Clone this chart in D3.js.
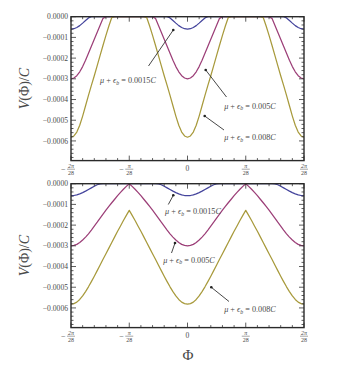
<!DOCTYPE html>
<html><head><meta charset="utf-8">
<script src="https://cdn.jsdelivr.net/npm/d3@7"></script>
<style>
html,body{margin:0;padding:0;background:#fff;}
svg{display:block;}
text{font-family:"Liberation Serif","DejaVu Serif",serif;}
</style></head>
<body>
<svg id="chart" width="348" height="379"></svg>
<script>
// Φ sample grid in units of π/28, values V(Φ)/C in units of 1e-4
const phiUnits = d3.range(81).map(i => -2 + i * 0.05);
const valueUnit = 1e-4;

const topBlue = [
 -0.60,-0.58,-0.52,-0.43,-0.31,-0.18,-0.06,0,0,0,0,0,0,0,0,0,0,0,0,0,0,
 0,0,0,0,0,0,0,0,0,0,0,0,0,-0.06,-0.18,-0.31,-0.43,-0.52,-0.58,-0.60,
 -0.58,-0.52,-0.43,-0.31,-0.18,-0.06,0,0,0,0,0,0,0,0,0,0,0,0,0,0,
 0,0,0,0,0,0,0,0,0,0,0,0,0,-0.06,-0.18,-0.31,-0.43,-0.52,-0.58,-0.60];
const topMagenta = [
 -3.00,-2.96,-2.85,-2.66,-2.41,-2.10,-1.77,-1.43,-1.09,-0.75,-0.41,-0.08,0,0,0,0,0,0,0,0,0,
 0,0,0,0,0,0,0,0,-0.08,-0.41,-0.75,-1.09,-1.43,-1.77,-2.10,-2.41,-2.66,-2.85,-2.96,-3.00,
 -2.96,-2.85,-2.66,-2.41,-2.10,-1.77,-1.43,-1.09,-0.75,-0.41,-0.08,0,0,0,0,0,0,0,0,0,
 0,0,0,0,0,0,0,0,-0.08,-0.41,-0.75,-1.09,-1.43,-1.77,-2.10,-2.41,-2.66,-2.85,-2.96,-3.00];
const topYellow = [
 -5.82,-5.76,-5.57,-5.24,-4.80,-4.30,-3.80,-3.32,-2.85,-2.36,-1.87,-1.38,-0.90,-0.45,-0.04,0,0,0,0,0,0,
 0,0,0,0,0,-0.04,-0.45,-0.90,-1.38,-1.87,-2.36,-2.85,-3.32,-3.80,-4.30,-4.80,-5.24,-5.57,-5.76,-5.82,
 -5.76,-5.57,-5.24,-4.80,-4.30,-3.80,-3.32,-2.85,-2.36,-1.87,-1.38,-0.90,-0.45,-0.04,0,0,0,0,0,0,
 0,0,0,0,0,-0.04,-0.45,-0.90,-1.38,-1.87,-2.36,-2.85,-3.32,-3.80,-4.30,-4.80,-5.24,-5.57,-5.76,-5.82];

const bottomBlue = [
 -0.58,-0.57,-0.54,-0.49,-0.43,-0.36,-0.28,-0.20,-0.12,-0.05,-0.01,0,0,0,0,0,0,0,0,0,0,
 0,0,0,0,0,0,0,0,0,-0.01,-0.05,-0.12,-0.20,-0.28,-0.36,-0.43,-0.49,-0.54,-0.57,-0.58,
 -0.57,-0.54,-0.49,-0.43,-0.36,-0.28,-0.20,-0.12,-0.05,-0.01,0,0,0,0,0,0,0,0,0,0,
 0,0,0,0,0,0,0,0,0,-0.01,-0.05,-0.12,-0.20,-0.28,-0.36,-0.43,-0.49,-0.54,-0.57,-0.58];
const bottomMagenta = [
 -3.00,-2.98,-2.93,-2.84,-2.72,-2.58,-2.42,-2.24,-2.05,-1.86,-1.66,-1.47,-1.28,-1.10,-0.92,-0.75,-0.58,-0.42,-0.27,-0.13,0,
 -0.13,-0.27,-0.42,-0.58,-0.75,-0.92,-1.10,-1.28,-1.47,-1.66,-1.86,-2.05,-2.24,-2.42,-2.58,-2.72,-2.84,-2.93,-2.98,-3.00,
 -2.98,-2.93,-2.84,-2.72,-2.58,-2.42,-2.24,-2.05,-1.86,-1.66,-1.47,-1.28,-1.10,-0.92,-0.75,-0.58,-0.42,-0.27,-0.13,0,
 -0.13,-0.27,-0.42,-0.58,-0.75,-0.92,-1.10,-1.28,-1.47,-1.66,-1.86,-2.05,-2.24,-2.42,-2.58,-2.72,-2.84,-2.93,-2.98,-3.00];
const bottomYellow = [
 -5.82,-5.79,-5.72,-5.59,-5.42,-5.21,-4.98,-4.73,-4.47,-4.20,-3.93,-3.65,-3.38,-3.11,-2.84,-2.57,-2.30,-2.04,-1.78,-1.53,-1.29,
 -1.53,-1.78,-2.04,-2.30,-2.57,-2.84,-3.11,-3.38,-3.65,-3.93,-4.20,-4.47,-4.73,-4.98,-5.21,-5.42,-5.59,-5.72,-5.79,-5.82,
 -5.79,-5.72,-5.59,-5.42,-5.21,-4.98,-4.73,-4.47,-4.20,-3.93,-3.65,-3.38,-3.11,-2.84,-2.57,-2.30,-2.04,-1.78,-1.53,-1.29,
 -1.53,-1.78,-2.04,-2.30,-2.57,-2.84,-3.11,-3.38,-3.65,-3.93,-4.20,-4.47,-4.73,-4.98,-5.21,-5.42,-5.59,-5.72,-5.79,-5.82];

const yTickValues = [0, -0.0001, -0.0002, -0.0003, -0.0004, -0.0005, -0.0006];
const yTickLabels = ["0.0000", "\u22120.0001", "\u22120.0002", "\u22120.0003", "\u22120.0004", "\u22120.0005", "\u22120.0006"];
const xTickUnits = [-2, -1, 0, 1, 2];
const xTickLabels = [["\u2212", "2\u03c0", "28"], ["\u2212", "\u03c0", "28"], ["", "0", ""], ["", "\u03c0", "28"], ["", "2\u03c0", "28"]];
const seriesColors = ["#44449c", "#9c3f78", "#a89a3c"];
const annLabels = ["0.0015", "0.005", "0.008"];

const svg = d3.select("#chart");
const textGray = "#4a4a4a";

const x = d3.scaleLinear().domain([-2, 2]).range([71, 304]);

function drawPanel(top, series, annotations) {
  const y = d3.scaleLinear().domain([-0.000695, 0]).range([top + 143.9, top]);
  const g = svg.append("g");
  const clipId = "clip" + Math.round(top);
  g.append("clipPath").attr("id", clipId).append("rect")
    .attr("x", x.range()[0]).attr("y", top - 1)
    .attr("width", x.range()[1] - x.range()[0]).attr("height", 146);
  const line = d3.line().x((d, i) => x(phiUnits[i])).y(d => y(d * valueUnit));
  series.forEach((s, k) => {
    g.append("path").attr("clip-path", `url(#${clipId})`)
      .attr("d", line(s)).attr("fill", "none")
      .attr("stroke", seriesColors[k]).attr("stroke-width", 1.25)
      .attr("stroke-linejoin", "round");
  });
  // frame
  const x0 = x.range()[0], x1 = x.range()[1], y0 = y.range()[1], y1 = y.range()[0];
  // minor & major ticks on y
  const yMinor = d3.range(0, 35).map(i => -i * 0.00002);
  yMinor.forEach(v => {
    const major = yTickValues.some(t => Math.abs(t - v) < 1e-9);
    const len = major ? 5 : 2.5;
    [[x0, x0 + len], [x1, x1 - len]].forEach(([a, b]) => {
      g.append("line").attr("x1", a).attr("x2", b).attr("y1", y(v)).attr("y2", y(v))
        .attr("stroke", "#333").attr("stroke-width", 0.8);
    });
  });
  const xMinor = d3.range(0, 21).map(i => -2 + i * 0.2);
  xMinor.forEach(u => {
    const major = xTickUnits.some(t => Math.abs(t - u) < 1e-9);
    const len = major ? 5 : 2.5;
    [[y1, y1 - len], [y0, y0 + len]].forEach(([a, b]) => {
      g.append("line").attr("y1", a).attr("y2", b).attr("x1", x(u)).attr("x2", x(u))
        .attr("stroke", "#333").attr("stroke-width", 0.8);
    });
  });
  g.append("rect").attr("x", x0).attr("y", y0).attr("width", x1 - x0).attr("height", y1 - y0)
    .attr("fill", "none").attr("stroke", "#2a2a2a").attr("stroke-width", 1.4);
  // y labels
  yTickValues.forEach((v, i) => {
    g.append("text").attr("x", x0 - 3).attr("y", y(v) + 2.6).attr("text-anchor", "end")
      .attr("font-size", 7.6).attr("fill", textGray).text(yTickLabels[i]);
  });
  // x labels (fractions)
  xTickUnits.forEach((u, i) => {
    const [sign, num, den] = xTickLabels[i];
    const cx = x(u);
    if (den === "") {
      g.append("text").attr("x", cx).attr("y", y1 + 10.5).attr("text-anchor", "middle")
        .attr("font-size", 7.6).attr("fill", textGray).text(num);
      return;
    }
    g.append("text").attr("x", cx).attr("y", y1 + 7).attr("text-anchor", "middle")
      .attr("font-size", 6).attr("font-style", "italic").attr("fill", textGray).text(num);
    g.append("line").attr("x1", cx - 4).attr("x2", cx + 4).attr("y1", y1 + 8.6).attr("y2", y1 + 8.6)
      .attr("stroke", textGray).attr("stroke-width", 0.5);
    g.append("text").attr("x", cx).attr("y", y1 + 14).attr("text-anchor", "middle")
      .attr("font-size", 6).attr("fill", textGray).text(den);
    if (sign) {
      g.append("text").attr("x", cx - 5.5).attr("y", y1 + 11).attr("text-anchor", "end")
        .attr("font-size", 8).attr("fill", textGray).text(sign);
    }
  });
  // y-axis title
  const yt = g.append("text").attr("transform", `translate(29,${(y0 + y1) / 2}) rotate(-90)`)
    .attr("text-anchor", "middle").attr("font-size", 14).attr("fill", textGray);
  yt.append("tspan").attr("font-style", "italic").text("V");
  yt.append("tspan").text("(\u03a6)/");
  yt.append("tspan").attr("font-style", "italic").text("C");
  // annotations
  annotations.forEach((a, k) => {
    g.append("line").attr("x1", a.lx).attr("y1", a.ly).attr("x2", a.px).attr("y2", a.py)
      .attr("stroke", "#333").attr("stroke-width", 0.9);
    g.append("circle").attr("cx", a.px).attr("cy", a.py).attr("r", 1.3).attr("fill", "#222");
    const t = g.append("text").attr("x", a.tx).attr("y", a.ty).attr("text-anchor", "middle")
      .attr("font-size", 8.2).attr("fill", textGray);
    t.append("tspan").attr("font-style", "italic").text("\u03bc");
    t.append("tspan").text(" + ");
    t.append("tspan").attr("font-style", "italic").text("\u03f5");
    t.append("tspan").attr("font-style", "italic").attr("font-size", 5.8).attr("dy", 1.8).text("b");
    t.append("tspan").attr("dy", -1.8).text(" = " + annLabels[k]);
    t.append("tspan").attr("font-style", "italic").text("C");
  });
}

drawPanel(16.7, [topBlue, topMagenta, topYellow], [
  {tx: 128, ty: 83, lx: 148.5, ly: 66, px: 173.3, py: 30},
  {tx: 250, ty: 108.5, lx: 226.5, ly: 97, px: 205.7, py: 70},
  {tx: 250, ty: 140, lx: 224, ly: 130, px: 204.7, py: 116}
]);
drawPanel(183.7, [bottomBlue, bottomMagenta, bottomYellow], [
  {tx: 193, ty: 214, lx: 168.3, ly: 204.5, px: 173.3, py: 195.3},
  {tx: 189, ty: 262.5, lx: 171.5, ly: 253, px: 175, py: 243},
  {tx: 250, ty: 312, lx: 229, ly: 301.5, px: 211.3, py: 287.3}
]);

svg.append("text").attr("x", 188).attr("y", 360).attr("text-anchor", "middle")
  .attr("font-size", 15).attr("fill", textGray).text("\u03a6");
</script>
</body></html>
